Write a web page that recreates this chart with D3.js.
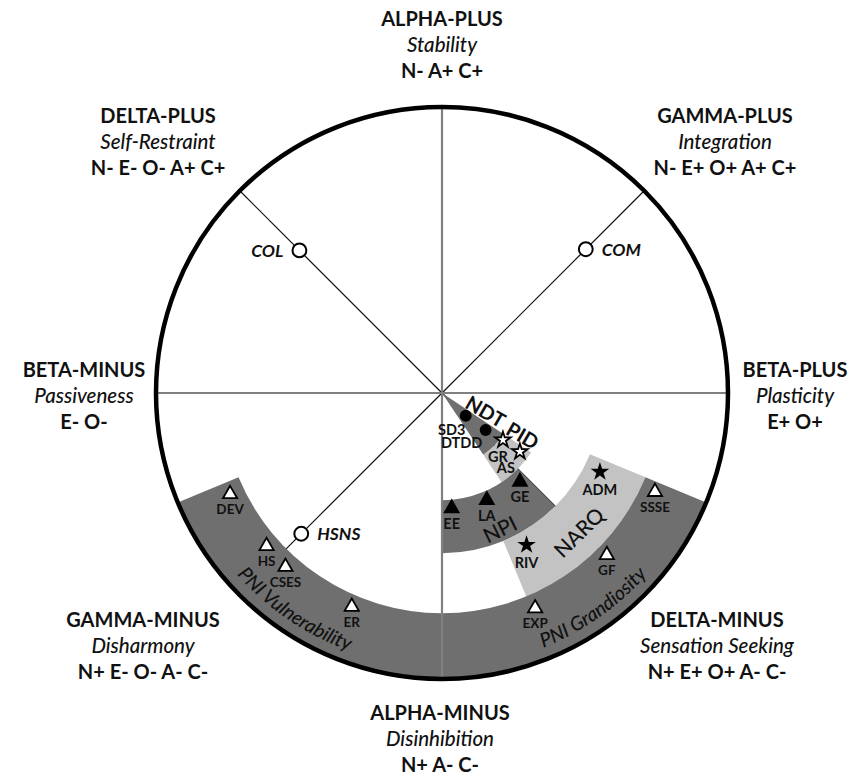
<!DOCTYPE html>
<html>
<head>
<meta charset="utf-8">
<script src="https://cdn.jsdelivr.net/npm/d3@7"></script>
<style>
  html, body { margin: 0; padding: 0; background: #fff; }
  svg { display: block; font-family: Lato, "Open Sans", sans-serif; }
</style>
</head>
<body>
<svg id="chart" width="849" height="778"></svg>
<script>
// ---- Octants of the circumplex, clockwise from the top ----
const octantNames    = ["ALPHA-PLUS", "GAMMA-PLUS", "BETA-PLUS", "DELTA-MINUS", "ALPHA-MINUS", "GAMMA-MINUS", "BETA-MINUS", "DELTA-PLUS"];
const octantTraits   = ["Stability", "Integration", "Plasticity", "Sensation Seeking", "Disinhibition", "Disharmony", "Passiveness", "Self-Restraint"];
const octantProfiles = ["N- A+ C+", "N- E+ O+ A+ C+", "E+ O+", "N+ E+ O+ A- C-", "N+ A- C-", "N+ E- O- A- C-", "E- O-", "N- E- O- A+ C+"];

// ---- Instrument bands: angular span in degrees (counter-clockwise from Plasticity)
//      and radial span as a share of the circle's radius ----
const bandNames   = ["NDT", "PID", "NPI", "NARQ", "PNI Grandiosity", "PNI Vulnerability"];
const bandAngle0  = [303.75, 303.75, 270,   292.5, 270,   202.5];
const bandAngle1  = [326.25, 326.25, 315,   337.5, 337.5, 270];
const bandRadius0 = [0,      0.26,   0.375, 0.56,  0.77,  0.77];
const bandRadius1 = [0.26,   0.375,  0.56,  0.77,  1,     1];
const bandShade   = ["dark", "light", "dark", "light", "dark", "dark"];

// ---- Scales and measures: polar location (angle in degrees, radius share) ----
const measureNames  = ["SD3", "DTDD", "GR", "AS", "EE", "LA", "GE", "ADM", "RIV",
                       "SSSE", "GF", "EXP", "DEV", "HS", "CSES", "ER", "COL", "COM", "HSNS"];
const measureBand   = ["NDT", "NDT", "PID", "PID", "NPI", "NPI", "NPI", "NARQ", "NARQ",
                       "PNI Grandiosity", "PNI Grandiosity", "PNI Grandiosity",
                       "PNI Vulnerability", "PNI Vulnerability", "PNI Vulnerability", "PNI Vulnerability",
                       "none", "none", "none"];
const measureAngle  = [316.2, 319.7, 322.4, 323.0, 274.8, 292.7, 311.3, 333.5, 299.1,
                       335.1, 315.5, 293.4, 205.5, 221.1, 228.0, 247.1, 135, 45, 225];
const measureRadius = [0.115, 0.200, 0.269, 0.341, 0.405, 0.406, 0.413, 0.617, 0.608,
                       0.821, 0.808, 0.820, 0.821, 0.814, 0.818, 0.811, 0.705, 0.711, 0.696];

// ---- Layout ----
const svg = d3.select("#chart");
const cx = 442, cy = 393, R = 286;
const g = svg.append("g").attr("transform", `translate(${cx},${cy})`);

// degrees counter-clockwise from east  ->  d3 arc angle (radians clockwise from north)
const angle  = d3.scaleLinear().domain([0, 360]).range([Math.PI / 2, Math.PI / 2 - 2 * Math.PI]);
const radius = d3.scaleLinear().domain([0, 1]).range([0, R]);
const polar = (deg, r) => {
  const a = angle(deg), rr = radius(r);
  return [rr * Math.sin(a), -rr * Math.cos(a)];
};

const shadeColor = { dark: "#6f6f6f", light: "#c3c3c3" };

// diagonal spokes (under the bands)
[45, 135, 225, 315].forEach(deg => {
  const [x, y] = polar(deg, 1);
  g.append("line").attr("x1", 0).attr("y1", 0).attr("x2", x).attr("y2", y)
    .attr("stroke", "#111").attr("stroke-width", 1.2);
});

// bands
const bands = bandNames.map((name, i) => ({
  name, a0: bandAngle0[i], a1: bandAngle1[i], r0: bandRadius0[i], r1: bandRadius1[i], shade: bandShade[i]
}));
const arc = d3.arc()
  .innerRadius(d => radius(d.r0)).outerRadius(d => radius(d.r1))
  .startAngle(d => angle(d.a0)).endAngle(d => angle(d.a1));
g.selectAll("path.band").data(bands).join("path")
  .attr("class", "band")
  .attr("d", arc)
  .attr("fill", d => shadeColor[d.shade]);

// main axes (over the bands)
[0, 90, 180, 270].forEach(deg => {
  const [x, y] = polar(deg, 1);
  g.append("line").attr("x1", 0).attr("y1", 0).attr("x2", x).attr("y2", y)
    .attr("stroke", "#808080").attr("stroke-width", 2.2);
});

// outer rim
g.append("circle").attr("r", R).attr("fill", "none").attr("stroke", "#000").attr("stroke-width", 4.5);

// ---- band labels ----
const straightLabels = [
  { text: "NDT",  deg: 337.8, r: 0.166, rot: 30,    size: 20, weight: 700 },
  { text: "PID",  deg: 332.6, r: 0.319, rot: 30,    size: 20, weight: 700 },
  { text: "NPI",  deg: 293.0, r: 0.515, rot: -26,   size: 21, weight: 500 },
  { text: "NARQ", deg: 314.5, r: 0.680, rot: -44.5, size: 21, weight: 500 }
];
straightLabels.forEach(l => {
  const [x, y] = polar(l.deg, l.r);
  g.append("text")
    .attr("transform", `translate(${x},${y}) rotate(${l.rot})`)
    .attr("text-anchor", "middle").attr("dominant-baseline", "central")
    .attr("font-size", l.size).attr("font-weight", l.weight).attr("fill", "#111")
    .text(l.text);
});

// curved labels for the PNI scales, reading counter-clockwise along the rim
const curved = [
  { band: "PNI Grandiosity",   centre: 305.1 },
  { band: "PNI Vulnerability", centre: 235.8 }
];
curved.forEach((c, i) => {
  const b = bands.find(d => d.name === c.band);
  const rr = radius(0.958);
  const [x0, y0] = polar(b.a0, 0.958), [x1, y1] = polar(b.a1, 0.958);
  const id = "curve" + i;
  g.append("path").attr("id", id).attr("fill", "none")
    .attr("d", `M${x0},${y0} A${rr},${rr} 0 0 0 ${x1},${y1}`);
  g.append("text")
    .attr("font-size", 19.5).attr("font-style", "italic").attr("font-weight", 500).attr("fill", "#111")
    .append("textPath").attr("href", "#" + id)
    .attr("startOffset", ((c.centre - b.a0) / (b.a1 - b.a0) * 100) + "%")
    .attr("text-anchor", "middle")
    .text(c.band);
});

// ---- markers ----
const markerStyle = {
  "NDT":               { type: d3.symbolCircle,   size: 110, fill: "#000", stroke: "none" },
  "PID":               { type: d3.symbolStar,     size: 75,  fill: "#fff", stroke: "#000" },
  "NPI":               { type: d3.symbolTriangle, size: 125, fill: "#000", stroke: "none" },
  "NARQ":              { type: d3.symbolStar,     size: 108, fill: "#000", stroke: "none" },
  "PNI Grandiosity":   { type: d3.symbolTriangle, size: 88,  fill: "#fff", stroke: "#000" },
  "PNI Vulnerability": { type: d3.symbolTriangle, size: 88,  fill: "#fff", stroke: "#000" },
  "none":              { type: d3.symbolCircle,   size: 150, fill: "#fff", stroke: "#000" }
};
// label placement relative to each marker
const labelNudge = {
  SD3: [-14, 14], DTDD: [-24, 13], GR: [-5, 17], AS: [-14, 16],
  ADM: [0, 18], RIV: [0, 18],
  COL: [-16, 0, "end"], COM: [16, 0, "start"], HSNS: [16, 0, "start"]
};

const measures = measureNames.map((name, i) => ({
  name, band: measureBand[i], deg: measureAngle[i], r: measureRadius[i]
}));

const mg = g.selectAll("g.measure").data(measures).join("g")
  .attr("class", "measure")
  .attr("transform", d => `translate(${polar(d.deg, d.r)})`);

mg.append("path")
  .attr("d", d => d3.symbol(markerStyle[d.band].type, markerStyle[d.band].size)())
  .attr("fill", d => markerStyle[d.band].fill)
  .attr("stroke", d => markerStyle[d.band].stroke)
  .attr("stroke-width", d => d.band === "none" ? 2 : 1.8)
  .attr("stroke-linejoin", "miter");

mg.append("text")
  .attr("x", d => (labelNudge[d.name] || [0, 15])[0])
  .attr("y", d => (labelNudge[d.name] || [0, 15])[1])
  .attr("text-anchor", d => (labelNudge[d.name] || [])[2] || "middle")
  .attr("dominant-baseline", "central")
  .attr("font-size", d => d.band === "none" ? 17.5 : (d.band.startsWith("PNI") ? 13.5 : 14.5))
  .attr("font-weight", 700)
  .attr("font-style", d => d.band === "none" ? "italic" : "normal")
  .attr("fill", "#111")
  .text(d => d.name);

// ---- octant captions ----
const octantX = [442, 725, 795, 717, 440, 143, 84, 158];
const octantY = [26, 123, 377, 627, 720, 627, 377, 123];
const lineGap = 26;
octantNames.forEach((name, i) => {
  const t = svg.append("text").attr("text-anchor", "middle").attr("fill", "#111").attr("font-size", 20);
  t.append("tspan").attr("x", octantX[i]).attr("y", octantY[i]).attr("font-weight", 700).text(name);
  t.append("tspan").attr("x", octantX[i]).attr("y", octantY[i] + lineGap)
    .attr("font-style", "italic").attr("font-weight", 500).attr("font-size", 20.5).text(octantTraits[i]);
  t.append("tspan").attr("x", octantX[i]).attr("y", octantY[i] + 2 * lineGap).attr("font-weight", 700).text(octantProfiles[i]);
});
</script>
</body>
</html>
